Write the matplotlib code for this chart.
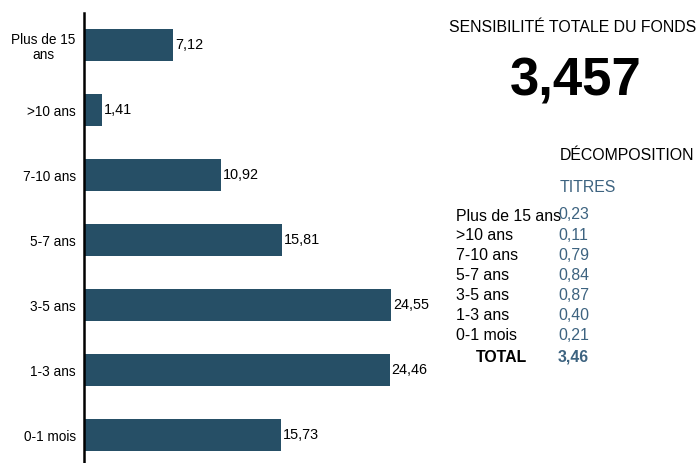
import matplotlib

matplotlib.use("Agg")
import matplotlib.pyplot as plt

plt.rcParams["font.family"] = ["Liberation Sans", "DejaVu Sans"]

# bar chart data (top to bottom)
categories = ["Plus de 15\nans", ">10 ans", "7-10 ans", "5-7 ans", "3-5 ans", "1-3 ans", "0-1 mois"]
values = [7.12, 1.41, 10.92, 15.81, 24.55, 24.46, 15.73]

# breakdown table
table_labels = ["Plus de 15 ans", ">10 ans", "7-10 ans", "5-7 ans", "3-5 ans", "1-3 ans", "0-1 mois"]
table_values = ["0,23", "0,11", "0,79", "0,84", "0,87", "0,40", "0,21"]
total_value = "3,46"
fund_sensitivity = "3,457"

BAR = "#264f66"
BLUE = "#3d6380"

W, H = 698, 463
fig = plt.figure(figsize=(W / 100, H / 100), dpi=100)

ax = fig.add_axes([84 / W, (H - 467.5) / H, 350 / W, 455 / H])
ypos = list(range(len(categories)))
ax.barh(ypos, values, height=0.5, color=BAR)
ax.set_ylim(len(categories) - 0.5, -0.5)
ax.set_xlim(0, 28)
ax.set_yticks(ypos)
ax.set_yticklabels(categories, fontsize=9.8, linespacing=1.15, multialignment="center")
ax.tick_params(axis="y", length=0, pad=6)
ax.set_xticks([])
for side in ("top", "right", "bottom"):
    ax.spines[side].set_visible(False)
ax.spines["left"].set_linewidth(1.8)
ax.spines["left"].set_color("black")
for y, v in zip(ypos, values):
    ax.text(v + 0.15, y, f"{v:.2f}".replace(".", ","), va="center", ha="left", fontsize=10.4)


def fx(px):
    return px / W


def fy(py):
    return 1 - py / H


fig.text(fx(449), fy(27), "SENSIBILITÉ TOTALE DU FONDS", ha="left", va="center", fontsize=11.4)
fig.text(fx(576), fy(81), fund_sensitivity, ha="center", va="center", fontsize=38, fontweight="bold")
fig.text(fx(560), fy(156), "DÉCOMPOSITION", ha="left", va="center", fontsize=11.4)
fig.text(fx(560), fy(187), "TITRES", ha="left", va="center", fontsize=11.4, color=BLUE)

row_y = 216
for lab, val in zip(table_labels, table_values):
    fig.text(fx(456), fy(row_y), lab, ha="left", va="center", fontsize=11.4)
    fig.text(fx(558), fy(row_y - 1), val, ha="left", va="center", fontsize=11.4, color=BLUE)
    row_y += 20
fig.text(fx(476), fy(row_y + 1), "TOTAL", ha="left", va="center", fontsize=11.4, fontweight="bold")
fig.text(fx(558), fy(row_y + 1), total_value, ha="left", va="center", fontsize=11.4, fontweight="bold", color=BLUE)

fig.savefig("out.png", dpi=100)
